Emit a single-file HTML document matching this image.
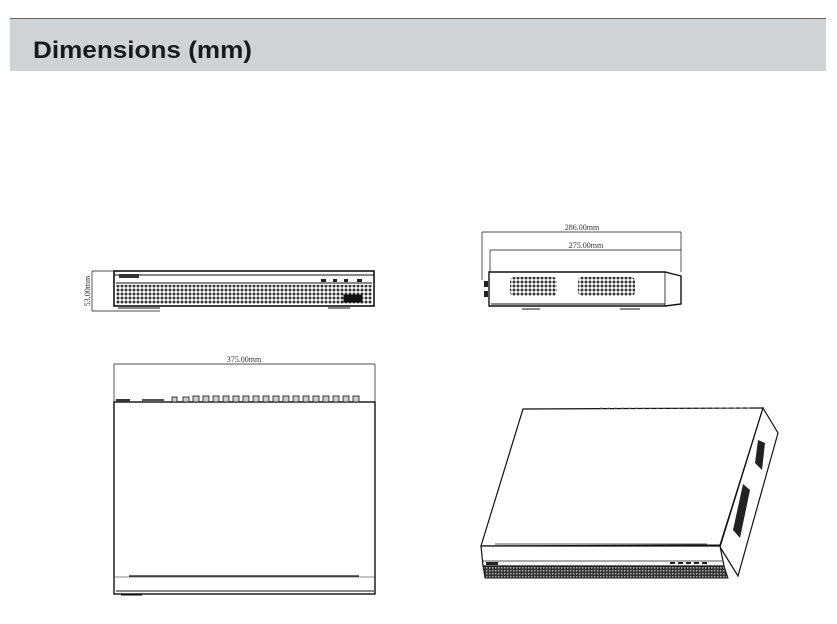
<!DOCTYPE html>
<html><head><meta charset="utf-8"><style>
html,body{margin:0;padding:0;background:#fff;width:837px;height:624px;overflow:hidden}
</style></head><body>
<svg width="837" height="624" viewBox="0 0 837 624" xmlns="http://www.w3.org/2000/svg" font-family="Liberation Sans, sans-serif">
<defs>
<pattern id="hatch" width="3" height="3" patternUnits="userSpaceOnUse">
<rect width="3" height="3" fill="#333"/><rect width="1.5" height="1.5" fill="#aaa"/>
</pattern>
<pattern id="dots" width="4" height="4" patternUnits="userSpaceOnUse">
<rect width="4" height="4" fill="#fff"/><circle cx="2" cy="2" r="1.5" fill="#333"/>
</pattern>
</defs>
<line x1="10" y1="18.5" x2="826" y2="18.5" stroke="#666" stroke-width="1"/>
<rect x="10" y="19" width="816" height="52" fill="#d1d2d4"/>
<text x="33" y="58" font-size="24" font-weight="bold" fill="#1a1a1a" textLength="219" lengthAdjust="spacingAndGlyphs" font-family="Liberation Sans, DejaVu Sans, sans-serif">Dimensions (mm)</text>

<!-- Front view -->
<g stroke="#111" fill="none">
<line x1="92" y1="271" x2="115" y2="271" stroke-width="0.7"/>
<line x1="92" y1="311" x2="160" y2="311" stroke-width="0.7"/>
<line x1="92" y1="271" x2="92" y2="311" stroke-width="0.7"/>
<rect x="114" y="271" width="260" height="35" stroke-width="1.6"/>
<line x1="114" y1="275" x2="374" y2="275" stroke-width="1"/>
<line x1="116" y1="283" x2="372" y2="283" stroke-width="1"/>
<rect x="116" y="285" width="256" height="19" fill="url(#dots)" stroke="none"/>
<rect x="344" y="295" width="18" height="7" fill="#111"/>
<line x1="118" y1="308" x2="160" y2="308" stroke-width="1"/>
<line x1="328" y1="308" x2="350" y2="308" stroke-width="1"/>
</g>
<rect x="119" y="274" width="20" height="4" fill="#333"/>
<rect x="321" y="279" width="5" height="3" fill="#222"/><rect x="333" y="279" width="4" height="3" fill="#222"/><rect x="344" y="279" width="4" height="3" fill="#222"/><rect x="357" y="279" width="5" height="3" fill="#222"/>
<text transform="translate(90,291) rotate(-90)" text-anchor="middle" font-size="8" fill="#333" font-family="Liberation Serif, serif">53.00mm</text>

<!-- Top view -->
<g stroke="#111" fill="none">
<line x1="114" y1="364" x2="375" y2="364" stroke-width="0.7"/>
<line x1="114" y1="364" x2="114" y2="402" stroke-width="0.7"/>
<line x1="375" y1="364" x2="375" y2="402" stroke-width="0.7"/>
<rect x="114" y="402" width="261" height="192" stroke-width="1.4"/>
<line x1="129" y1="576" x2="359" y2="576" stroke-width="1.2"/>
<line x1="115" y1="577" x2="375" y2="577" stroke-width="0.6"/>
<line x1="116" y1="591" x2="374" y2="591" stroke-width="1"/>
<line x1="121" y1="595" x2="142" y2="595" stroke-width="1"/>
</g>
<text x="244" y="362" text-anchor="middle" font-size="8" fill="#333" font-family="Liberation Serif, serif">375.00mm</text>
<g fill="#ccc" stroke="#111" stroke-width="0.8">
<rect x="193" y="396" width="6" height="6"/><rect x="203" y="396" width="6" height="6"/><rect x="213" y="396" width="6" height="6"/><rect x="223" y="396" width="6" height="6"/><rect x="233" y="396" width="6" height="6"/><rect x="243" y="396" width="6" height="6"/><rect x="253" y="396" width="6" height="6"/><rect x="263" y="396" width="6" height="6"/><rect x="273" y="396" width="6" height="6"/><rect x="283" y="396" width="6" height="6"/><rect x="293" y="396" width="6" height="6"/><rect x="303" y="396" width="6" height="6"/><rect x="313" y="396" width="6" height="6"/><rect x="323" y="396" width="6" height="6"/><rect x="333" y="396" width="6" height="6"/><rect x="343" y="396" width="6" height="6"/><rect x="353" y="396" width="6" height="6"/>
<rect x="172" y="397" width="5" height="5"/><rect x="183" y="397" width="6" height="5"/>
</g>
<rect x="116" y="399" width="14" height="3" fill="#333"/><rect x="142" y="399" width="22" height="3" fill="#555"/>

<!-- Side view -->
<g stroke="#111" fill="none">
<line x1="482" y1="232" x2="681" y2="232" stroke-width="0.7"/>
<line x1="482" y1="232" x2="482" y2="280" stroke-width="0.7"/>
<line x1="681" y1="232" x2="681" y2="272" stroke-width="0.7"/>
<line x1="490" y1="250" x2="681" y2="250" stroke-width="0.7"/>
<line x1="490" y1="250" x2="490" y2="272" stroke-width="0.7"/>
<path d="M489 272 L665 272 L681 276 L681 304 L665 306 L489 306 Z" stroke-width="1.4"/>
<line x1="665" y1="272" x2="665" y2="306" stroke-width="0.8"/>
<line x1="491" y1="304" x2="665" y2="304" stroke-width="1"/>
<line x1="522" y1="309" x2="540" y2="309"/><line x1="620" y1="309" x2="640" y2="309"/>
</g>
<rect x="510" y="277" width="47" height="19" rx="4" fill="url(#dots)"/>
<rect x="578" y="277" width="57" height="19" rx="4" fill="url(#dots)"/>
<rect x="484" y="281" width="4" height="6" fill="#222"/><rect x="484" y="291" width="4" height="6" fill="#222"/>
<text x="582" y="230" text-anchor="middle" font-size="8" fill="#333" font-family="Liberation Serif, serif">286.00mm</text>
<text x="586" y="248" text-anchor="middle" font-size="8" fill="#333" font-family="Liberation Serif, serif">275.00mm</text>

<!-- Perspective -->
<g stroke="#111" fill="#fff" stroke-width="1.2">
<path d="M523 409 L763 408 L720 545 L481 546 Z"/>
<path d="M763 408 L778 433 L738 576 L720 547 Z"/>
<path d="M481 546 L720 546 L724 566 L483 566 Z"/>
</g>
<line x1="495" y1="544" x2="707" y2="544" stroke="#222" stroke-width="0.8"/>
<line x1="483" y1="561" x2="722" y2="561" stroke="#222" stroke-width="0.8"/>
<path d="M483 566 L724 566 L728 578 L485 578 Z" fill="url(#hatch)" stroke="#111"/>
<rect x="486" y="562" width="12" height="3" fill="#222"/>
<g fill="#222"><rect x="670" y="562" width="5" height="2"/><rect x="678" y="562" width="5" height="2"/><rect x="686" y="562" width="5" height="2"/><rect x="694" y="562" width="5" height="2"/><rect x="702" y="562" width="5" height="2"/></g>
<path d="M758 440 L765 443 L762 470 L755 463 Z" fill="#222"/>
<path d="M743 484 L750 490 L740 538 L733 530 Z" fill="#222"/>
<line x1="600" y1="408" x2="750" y2="408" stroke="#888" stroke-width="0.8" stroke-dasharray="3,4"/>
</svg>
</body></html>
